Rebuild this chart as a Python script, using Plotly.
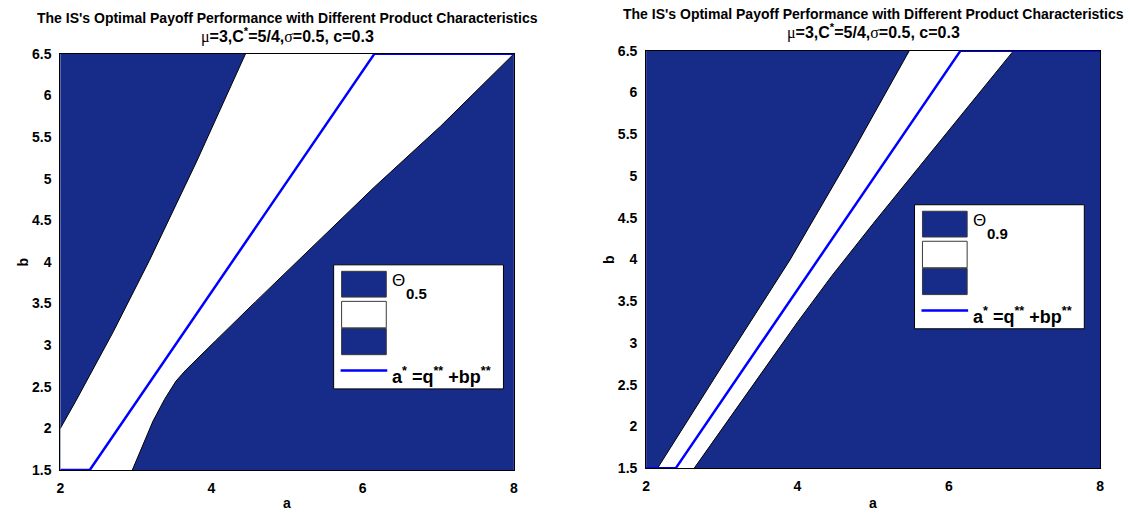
import plotly.graph_objects as go

# ---- data: region boundaries in the (a, b) plane ----
# Theta_0.5 panel
t05_upper_a = [2.0, 2.2, 2.7, 3.18, 3.8, 4.45]
t05_upper_b = [2.0, 2.32, 3.16, 4.02, 5.2, 6.5]
t05_lower_a = [2.953, 3.10, 3.227, 3.38, 3.53, 3.66, 3.79, 4.055, 4.58, 5.05, 6.155, 7.03, 8.0]
t05_lower_b = [1.5, 1.815, 2.089, 2.35, 2.568, 2.70, 2.82, 3.054, 3.52, 3.93, 4.9, 5.63, 6.5]

# Theta_0.9 panel
t09_upper_a = [2.15, 3.0, 3.9, 4.7, 5.478]
t09_upper_b = [1.5, 2.72, 3.994, 5.24, 6.5]
t09_lower_a = [2.634, 3.6, 4.0, 4.45, 5.0, 5.6, 6.856]
t09_lower_b = [1.5, 2.74, 3.25, 3.80, 4.43, 5.1, 6.5]

# a* = q** + b p**  (same in both panels)
opt_a = [2.0, 2.39, 6.155, 8.0]
opt_b = [1.5, 1.5, 6.5, 6.5]

a_range = [2, 8]
b_range = [1.5, 6.5]
x_ticks = [2, 4, 6, 8]
y_ticks = [1.5, 2, 2.5, 3, 3.5, 4, 4.5, 5, 5.5, 6, 6.5]

panels = [
    dict(label="0.5", up_a=t05_upper_a, up_b=t05_upper_b, lo_a=t05_lower_a, lo_b=t05_lower_b),
    dict(label="0.9", up_a=t09_upper_a, up_b=t09_upper_b, lo_a=t09_lower_a, lo_b=t09_lower_b),
]

# ---- styling / layout constants ----
W, H = 1132, 519
NAVY = "#172B89"
LINE_BLUE = "#0000FF"
FONT = "Liberation Sans, Arial, sans-serif"
SERIF = "Liberation Serif"


def fx(px):
    return px / W


def fy(py):
    return 1 - py / H


# pixel boxes of the two axes: (left, right, top, bottom)
boxes = [(56.7, 513.5, 47.3, 476.7), (646.7, 1104.0, 44.0, 475.0)]
# legend boxes: (left, right, top)
legend_boxes = [(332.0, 503.0, 265.0), (917.0, 1088.0, 203.0)]
title_y = [(10, 28), (6, 24)]

fig = go.Figure()
layout = dict(
    width=W, height=H,
    margin=dict(l=0, r=0, t=0, b=0),
    paper_bgcolor="white",
    plot_bgcolor="rgba(0,0,0,0)",
    showlegend=False,
)
shapes = []
annotations = []

for i, (p, box, lb, ty) in enumerate(zip(panels, boxes, legend_boxes, title_y)):
    xa = "x" if i == 0 else "x2"
    ya = "y" if i == 0 else "y2"
    left, right, top, bottom = box

    # white band between the two boundaries
    if p["up_b"][0] == b_range[0]:
        band_a = p["up_a"] + [a_range[1]] + p["lo_a"][::-1]
        band_b = p["up_b"] + [b_range[1]] + p["lo_b"][::-1]
    else:
        band_a = [a_range[0]] + p["up_a"] + [a_range[1]] + p["lo_a"][::-1]
        band_b = [b_range[0]] + p["up_b"] + [b_range[1]] + p["lo_b"][::-1]
    fig.add_trace(go.Scatter(
        x=band_a, y=band_b, mode="lines", fill="toself",
        fillcolor="white", line=dict(width=0), xaxis=xa, yaxis=ya,
        hoverinfo="skip"))
    # black contour edges
    for bx, by in ((p["up_a"], p["up_b"]), (p["lo_a"], p["lo_b"])):
        fig.add_trace(go.Scatter(
            x=bx, y=by, mode="lines", line=dict(color="black", width=1),
            xaxis=xa, yaxis=ya, hoverinfo="skip"))
    # optimal line
    fig.add_trace(go.Scatter(
        x=opt_a, y=opt_b, mode="lines",
        line=dict(color=LINE_BLUE, width=2.5),
        xaxis=xa, yaxis=ya, cliponaxis=False, hoverinfo="skip"))

    axis_common = dict(
        showgrid=False, zeroline=False, showline=True, linecolor="black",
        linewidth=1, mirror=True, ticks="",
        tickfont=dict(family=FONT, size=14, color="black", weight="bold"),
    )
    layout["xaxis" if i == 0 else "xaxis2"] = dict(
        axis_common, domain=[fx(left), fx(right)], range=a_range,
        tickvals=x_ticks, anchor=ya, ticklabelstandoff=5)
    layout["yaxis" if i == 0 else "yaxis2"] = dict(
        axis_common, domain=[fy(bottom), fy(top)], range=b_range,
        tickvals=y_ticks, anchor=xa, ticklabelstandoff=5)

    # navy background of the plotting area
    shapes.append(dict(type="rect", xref="paper", yref="paper",
                       x0=fx(left), x1=fx(right), y0=fy(bottom), y1=fy(top),
                       fillcolor=NAVY, line=dict(width=0), layer="below"))

    cx = (left + right) / 2
    annotations += [
        dict(text="<b>The IS's Optimal Payoff Performance with Different Product Characteristics</b>",
             x=fx(cx), y=fy(ty[0]), xref="paper", yref="paper", showarrow=False,
             xanchor="center", yanchor="middle",
             font=dict(family=FONT, size=14, color="black")),
        dict(text="<span style='font-family:" + SERIF + ";font-weight:normal'>μ</span><b>=3,C<sup>*</sup>=5/4,</b>"
                  "<span style='font-family:" + SERIF + ";font-weight:normal'>σ</span><b>=0.5, c=0.3</b>",
             x=fx(cx), y=fy(ty[1]), xref="paper", yref="paper", showarrow=False,
             xanchor="center", yanchor="middle",
             font=dict(family=FONT, size=16, color="black")),
        dict(text="<b>a</b>", x=fx(cx), y=fy(511), xref="paper", yref="paper",
             showarrow=False, xanchor="center", yanchor="middle",
             font=dict(family=FONT, size=14, color="black")),
        dict(text="<b>b</b>", x=fx(left - 38), y=fy((top + bottom) / 2),
             xref="paper", yref="paper", showarrow=False, textangle=-90,
             xanchor="center", yanchor="middle",
             font=dict(family=FONT, size=14, color="black")),
    ]

    # legend
    l0, l1, t0 = lb
    shapes.append(dict(type="rect", xref="paper", yref="paper",
                       x0=fx(l0), x1=fx(l1), y0=fy(t0 + 128), y1=fy(t0),
                       fillcolor="white", line=dict(color="black", width=1)))
    px0, px1 = l0 + 8, l0 + 53
    for (y0, y1, col) in ((6.7, 33.3, NAVY), (37.7, 65.0, "white"), (65.7, 92.7, NAVY)):
        shapes.append(dict(type="rect", xref="paper", yref="paper",
                           x0=fx(px0), x1=fx(px1), y0=fy(t0 + y1), y1=fy(t0 + y0),
                           fillcolor=col, line=dict(color="#3a3a3a", width=1)))
    shapes.append(dict(type="line", xref="paper", yref="paper",
                       x0=fx(px0 - 1), x1=fx(px1 + 1), y0=fy(t0 + 109), y1=fy(t0 + 109),
                       line=dict(color=LINE_BLUE, width=2.5)))
    annotations += [
        dict(text="Θ", x=fx(l0 + 57), y=fy(t0 + 16), xref="paper", yref="paper",
             showarrow=False, xanchor="left", yanchor="middle",
             font=dict(family=FONT, size=17, color="black")),
        dict(text="<b>" + p["label"] + "</b>", x=fx(l0 + 71), y=fy(t0 + 30),
             xref="paper", yref="paper", showarrow=False, xanchor="left", yanchor="middle",
             font=dict(family=FONT, size=15, color="black")),
        dict(text="<b>a<sup>*</sup> =q<sup>**</sup> +bp<sup>**</sup></b>",
             x=fx(l0 + 57), y=fy(t0 + 114), xref="paper", yref="paper",
             showarrow=False, xanchor="left", yanchor="middle",
             font=dict(family=FONT, size=18, color="black")),
    ]

layout["shapes"] = shapes
layout["annotations"] = annotations
fig.update_layout(**layout)
fig.write_html("out.html")
